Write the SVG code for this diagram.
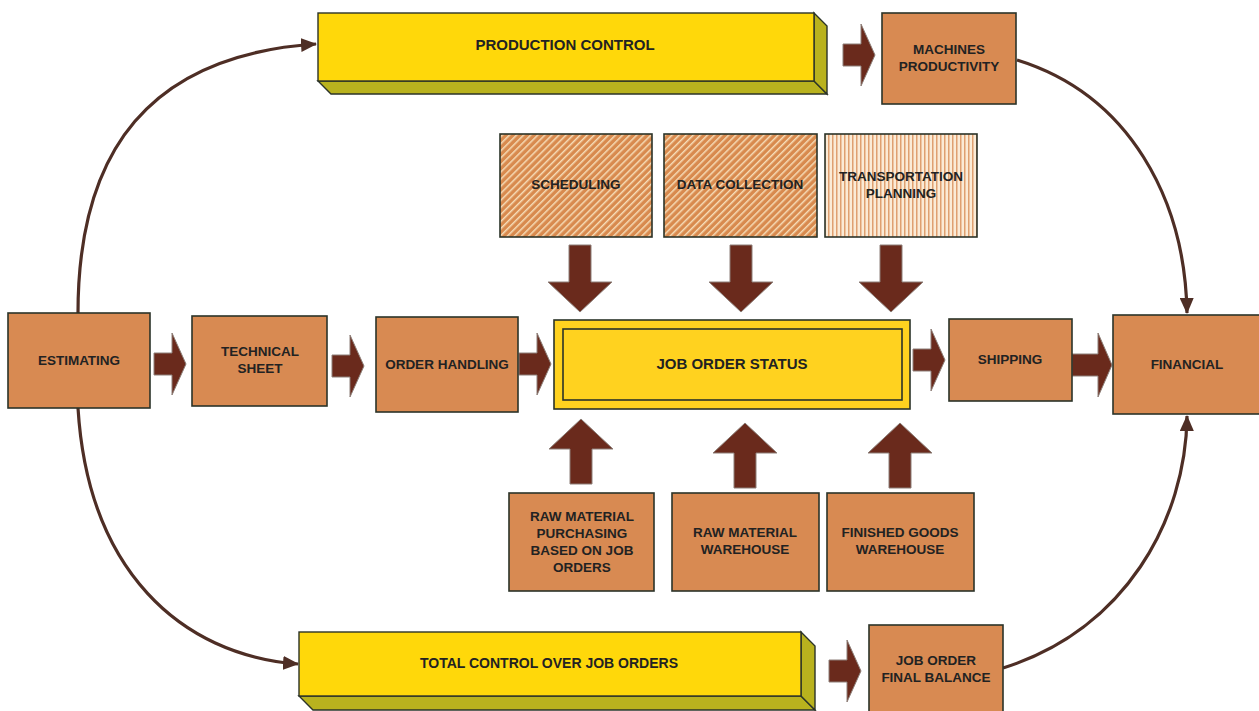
<svg xmlns="http://www.w3.org/2000/svg" width="1259" height="711" viewBox="0 0 1259 711">
<defs>
<style>
.box{fill:#D88A52;stroke:#2b3328;stroke-width:1.6}
.yel{fill:#FFD80A;stroke:#2b3328;stroke-width:1.4}
.olive{fill:#B9B21E;stroke:#2b3328;stroke-width:1.4}
.t{font-family:"Liberation Sans",Arial,sans-serif;font-weight:bold;font-size:13.5px;fill:#222;text-anchor:middle}
.tb{font-size:15px}
.arr{fill:#6A2A1C;stroke:#8d7f78;stroke-width:1}
.curve{fill:none;stroke:#4e2e25;stroke-width:3.2}
</style>
<pattern id="diag" width="5" height="5" patternUnits="userSpaceOnUse" patternTransform="rotate(45)">
<rect width="5" height="5" fill="#D88A4E"/>
<rect width="1.5" height="5" fill="#F6DDB8"/>
</pattern>
<pattern id="vert" width="4" height="4" patternUnits="userSpaceOnUse">
<rect width="4" height="4" fill="#FBEBD6"/>
<rect width="1.5" height="4" fill="#DFA070"/>
</pattern>
<marker id="ah" viewBox="0 0 16 14" refX="15" refY="7" markerWidth="16" markerHeight="14" markerUnits="userSpaceOnUse" orient="auto">
<path d="M0,0 L16,7 L0,14 z" fill="#4e2e25"/>
</marker>
<polygon id="ha" points="0,-11 18,-11 18,-31 32,0 18,31 18,11 0,11"/>
<polygon id="ha40" points="0,-11 26,-11 26,-32 40,0 26,32 26,11 0,11"/>
<polygon id="da" points="-11,0 11,0 11,37 32,37 0,67 -32,37 -11,37"/>
<polygon id="ua" points="-11,0 11,0 11,-35 32,-35 0,-65 -32,-35 -11,-35"/>
</defs>

<g id="connectors">
<path class="curve" d="M78,313 C78,150 150,55 316,44" marker-end="url(#ah)"/>
<path class="curve" d="M78,408 C88,570 180,655 298,664" marker-end="url(#ah)"/>
<path class="curve" d="M1017,60 C1130,95 1185,200 1187,313" marker-end="url(#ah)"/>
<path class="curve" d="M1003,668 C1125,630 1186,520 1187,416" marker-end="url(#ah)"/>
<use href="#ha" class="arr" x="843" y="55"/>
<use href="#ha" class="arr" x="154" y="364"/>
<use href="#ha" class="arr" x="332" y="366"/>
<use href="#ha" class="arr" x="519" y="364"/>
<use href="#ha" class="arr" x="913" y="360"/>
<use href="#ha40" class="arr" x="1072" y="365"/>
<use href="#ha" class="arr" x="829" y="671"/>
<use href="#da" class="arr" x="580" y="245"/>
<use href="#da" class="arr" x="741" y="245"/>
<use href="#da" class="arr" x="891" y="245"/>
<use href="#ua" class="arr" x="581" y="484"/>
<use href="#ua" class="arr" x="745" y="488"/>
<use href="#ua" class="arr" x="900" y="488"/>
</g>

<g id="production-control">
<polygon class="olive" points="318,81 814,81 827,94 331,94"/>
<polygon class="olive" points="814,13 827,26 827,94 814,81"/>
<rect class="yel" x="318" y="13" width="496" height="68"/>
<text class="t tb" x="565" y="50">PRODUCTION CONTROL</text>
</g>

<g id="machines-productivity">
<rect class="box" x="882" y="13" width="134" height="91"/>
<text class="t" x="949" y="54">MACHINES</text>
<text class="t" x="949" y="71">PRODUCTIVITY</text>
</g>

<g id="scheduling">
<rect x="500" y="134" width="152" height="103" fill="url(#diag)" stroke="#2b3328" stroke-width="1.6"/>
<text class="t" x="576" y="189">SCHEDULING</text>
</g>

<g id="data-collection">
<rect x="664" y="134" width="153" height="103" fill="url(#diag)" stroke="#2b3328" stroke-width="1.6"/>
<text class="t" x="740" y="189">DATA COLLECTION</text>
</g>

<g id="transportation-planning">
<rect x="825" y="134" width="152" height="103" fill="url(#vert)" stroke="#2b3328" stroke-width="1.6"/>
<text class="t" x="901" y="181">TRANSPORTATION</text>
<text class="t" x="901" y="198">PLANNING</text>
</g>

<g id="estimating">
<rect class="box" x="8" y="313" width="142" height="95"/>
<text class="t" x="79" y="365">ESTIMATING</text>
</g>

<g id="technical-sheet">
<rect class="box" x="192" y="316" width="135" height="90"/>
<text class="t" x="260" y="356">TECHNICAL</text>
<text class="t" x="260" y="373">SHEET</text>
</g>

<g id="order-handling">
<rect class="box" x="376" y="317" width="142" height="95"/>
<text class="t" x="447" y="369">ORDER HANDLING</text>
</g>

<g id="job-order-status">
<rect x="554" y="320" width="356" height="89" fill="#FFD21F" stroke="#2b3328" stroke-width="1.6"/>
<rect x="563" y="329" width="339" height="71" fill="none" stroke="#2b3328" stroke-width="1.6"/>
<text class="t tb" x="732" y="369">JOB ORDER STATUS</text>
</g>

<g id="shipping">
<rect class="box" x="949" y="319" width="123" height="82"/>
<text class="t" x="1010" y="364">SHIPPING</text>
</g>

<g id="financial">
<rect class="box" x="1113" y="315" width="150" height="99"/>
<text class="t" x="1187" y="369">FINANCIAL</text>
</g>

<g id="raw-material-purchasing">
<rect class="box" x="509" y="493" width="145" height="98"/>
<text class="t" x="582" y="521">RAW MATERIAL</text>
<text class="t" x="582" y="538">PURCHASING</text>
<text class="t" x="582" y="555">BASED ON JOB</text>
<text class="t" x="582" y="572">ORDERS</text>
</g>

<g id="raw-material-warehouse">
<rect class="box" x="672" y="493" width="147" height="98"/>
<text class="t" x="745" y="537">RAW MATERIAL</text>
<text class="t" x="745" y="554">WAREHOUSE</text>
</g>

<g id="finished-goods-warehouse">
<rect class="box" x="827" y="493" width="147" height="98"/>
<text class="t" x="900" y="537">FINISHED GOODS</text>
<text class="t" x="900" y="554">WAREHOUSE</text>
</g>

<g id="total-control">
<polygon class="olive" points="299,696 801,696 815,710 313,710"/>
<polygon class="olive" points="801,632 815,646 815,710 801,696"/>
<rect class="yel" x="299" y="632" width="502" height="64"/>
<text class="t" x="549" y="668" style="font-size:14px">TOTAL CONTROL OVER JOB ORDERS</text>
</g>

<g id="job-order-final-balance">
<rect class="box" x="869" y="625" width="134" height="90"/>
<text class="t" x="936" y="665">JOB ORDER</text>
<text class="t" x="936" y="682">FINAL BALANCE</text>
</g>
</svg>
